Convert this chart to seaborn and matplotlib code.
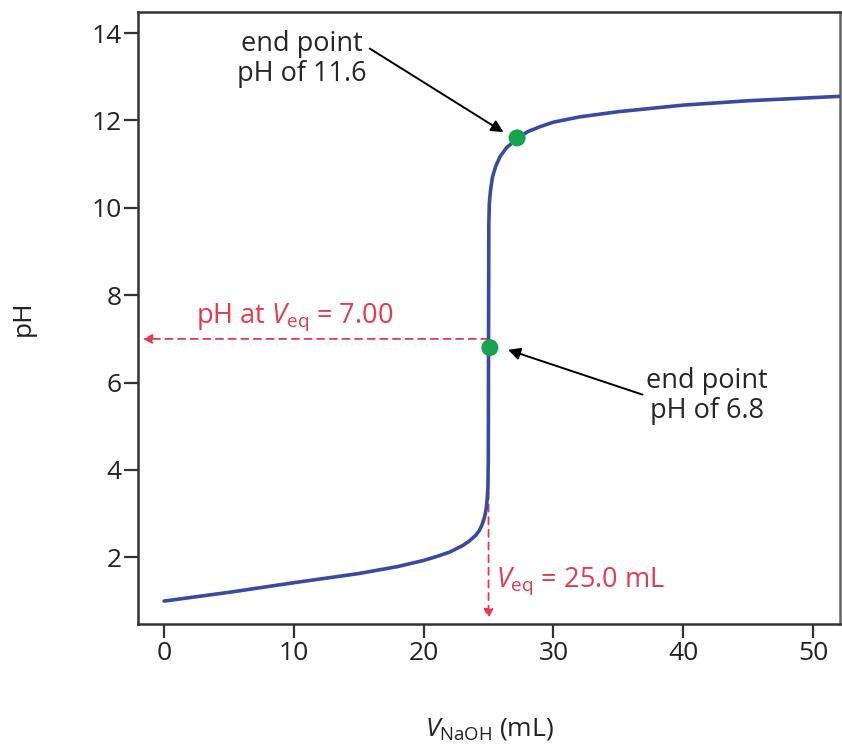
import numpy as np
import pandas as pd
import matplotlib
matplotlib.use("Agg")
import matplotlib.pyplot as plt
import seaborn as sns

# titration curve
volume_ml = [0, 5, 10, 15, 18, 20, 21, 22, 23, 23.5, 24, 24.3, 24.5, 24.7, 24.82, 24.9, 24.95,
             24.98, 25.0, 25.02, 25.06, 25.15, 25.3, 25.55, 25.9, 26.4, 27.2, 28, 29,
             30, 32, 35, 40, 45, 52]
ph_values = [1.00, 1.20, 1.42, 1.63, 1.79, 1.93, 2.02, 2.12, 2.27, 2.37, 2.50, 2.62, 2.75, 2.93, 3.12, 3.35, 3.60,
             4.20, 7.00, 9.60, 10.10, 10.40, 10.70, 10.95, 11.18, 11.38, 11.58, 11.74, 11.86,
             11.96, 12.08, 12.20, 12.35, 12.45, 12.55]

# end points (green dots)
end_volume = [25.1, 27.2]
end_ph = [6.8, 11.6]

v_eq = 25.0
ph_eq = 7.00

x_ticks = [0, 10, 20, 30, 40, 50]
y_ticks = [2, 4, 6, 8, 10, 12, 14]

sns.set_style("ticks")
plt.rcParams["font.family"] = ["Open Sans", "DejaVu Sans"]
plt.rcParams["mathtext.fontset"] = "custom"
plt.rcParams["mathtext.rm"] = "Open Sans"
plt.rcParams["mathtext.it"] = "Open Sans:italic"

curva = pd.DataFrame({"V": volume_ml, "pH": ph_values})
punti = pd.DataFrame({"V": end_volume, "pH": end_ph})

fig = plt.figure(figsize=(8.42, 7.53), dpi=100)
ax = fig.add_axes([0.164, 0.171, 0.834, 0.813])

blu = "#3a4aa3"
rosso = "#e63a4f"
verde = "#16a34f"

sns.lineplot(data=curva, x="V", y="pH", ax=ax, color=blu, lw=2.6, sort=False, zorder=3)
sns.scatterplot(data=punti, x="V", y="pH", ax=ax, color=verde, s=150, edgecolor="none", zorder=4)

# dashed red guides
ax.annotate("", xy=(-1.65, ph_eq), xytext=(v_eq, ph_eq),
            arrowprops=dict(arrowstyle="-|>", color=rosso, lw=1.3, ls=(0, (4, 3)),
                            mutation_scale=14, shrinkA=0, shrinkB=0), zorder=2)
ax.annotate("", xy=(v_eq, 0.6), xytext=(v_eq, 3.5),
            arrowprops=dict(arrowstyle="-|>", color=rosso, lw=1.3, ls=(0, (4, 3)),
                            mutation_scale=14, shrinkA=0, shrinkB=0), zorder=2)
ax.text(2.5, 7.5, r"pH at $V_{\mathrm{eq}}$ = 7.00", color=rosso, fontsize=19.5, va="center", ha="left")
ax.text(25.6, 1.45, r"$V_{\mathrm{eq}}$ = 25.0 mL", color=rosso, fontsize=19.5, va="center", ha="left")

# end point labels
ax.annotate("end point\npH of 11.6", xy=(26.15, 11.73), xytext=(10.6, 13.4),
            fontsize=19.5, ha="center", va="center", linespacing=1.1,
            arrowprops=dict(arrowstyle="-|>", color="black", lw=1.4, mutation_scale=18,
                            shrinkA=0, shrinkB=0, relpos=(1.0, 0.72)))
ax.annotate("end point\npH of 6.8", xy=(26.5, 6.75), xytext=(41.8, 5.7),
            fontsize=19.5, ha="center", va="center", linespacing=1.1,
            arrowprops=dict(arrowstyle="-|>", color="black", lw=1.4, mutation_scale=18,
                            shrinkA=0, shrinkB=0, relpos=(0.0, 0.5)))

ax.set_xlim(-2, 52.1)
ax.set_ylim(0.47, 14.48)
ax.set_xticks(x_ticks)
ax.set_yticks(y_ticks)
ax.tick_params(axis="both", direction="out", length=10, width=1.6, labelsize=19,
               color="#333333", labelcolor="#222222", pad=2)
for lato in ["left", "bottom", "top"]:
    ax.spines[lato].set_color("#333333")
    ax.spines[lato].set_linewidth(1.8)
ax.spines["right"].set_color("#666666")
ax.spines["right"].set_linewidth(1.8)

ax.set_xlabel(r"$V_{\mathrm{NaOH}}$ (mL)", fontsize=19, labelpad=36, color="#222222")
ax.set_ylabel("pH", fontsize=19, labelpad=40, color="#222222")

fig.savefig("out.png", dpi=100)
